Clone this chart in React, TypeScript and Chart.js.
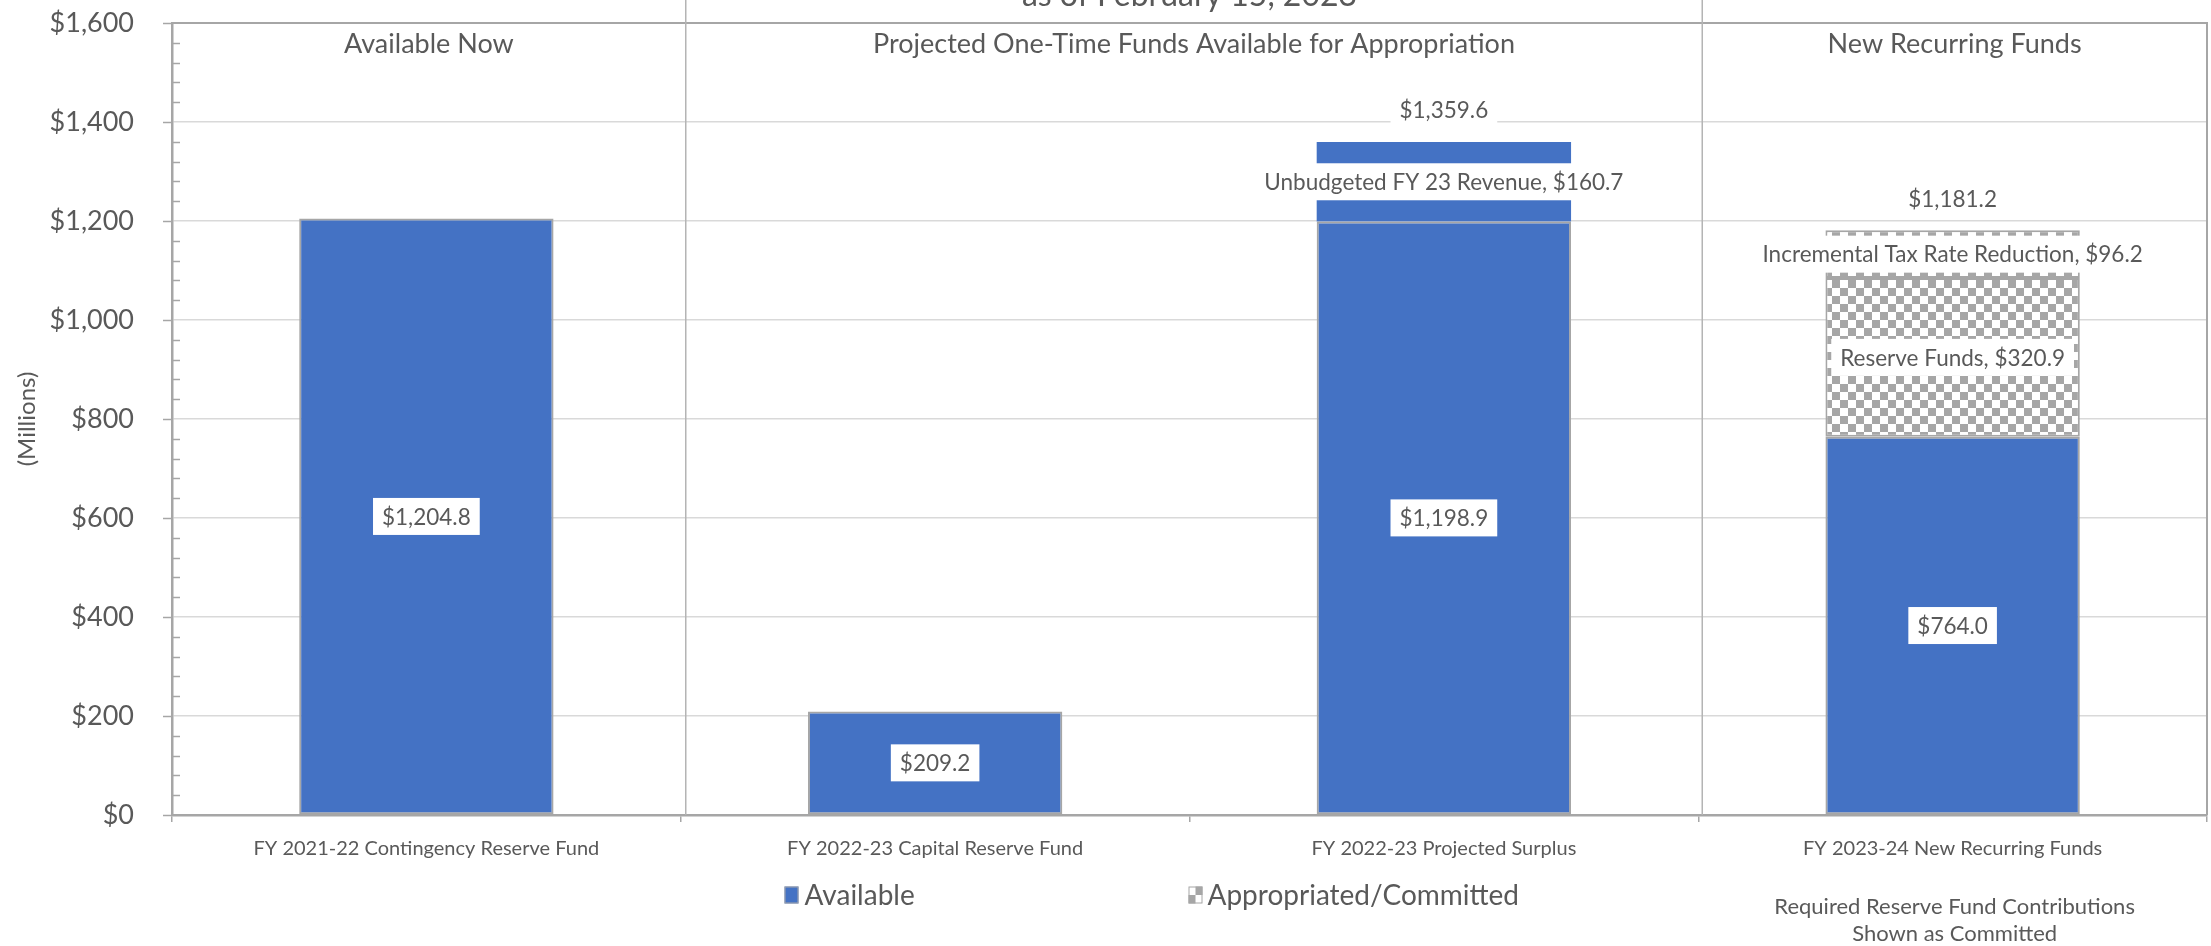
import React, { useEffect, useRef } from "react";
import { Chart, registerables } from "chart.js";

Chart.register(...registerables);

// ---------- data ----------
const categories = [
  "FY 2021-22 Contingency Reserve Fund",
  "FY 2022-23 Capital Reserve Fund",
  "FY 2022-23 Projected Surplus",
  "FY 2023-24 New Recurring Funds",
];
const availableBase = [1204.8, 209.2, 1198.9, 764.0];
const unbudgetedRevenue = [null, null, 160.7, null];
const reserveFunds = [null, null, null, 320.9];
const taxRateReduction = [null, null, null, 96.2];
const barTotals = [null, null, 1359.6, 1181.2];

const segmentNames = ["", "Unbudgeted FY 23 Revenue", "Reserve Funds", "Incremental Tax Rate Reduction"];
const sectionHeaders = [
  "Available Now",
  "Projected One-Time Funds Available for Appropriation",
  "New Recurring Funds",
];
const legendLabels = ["Available", "Appropriated/Committed"];
const footnoteLines = ["Required Reserve Fund Contributions", "Shown as Committed"];
const chartTitle = "as of February 15, 2023";
const yAxisTitle = "(Millions)";
const yMin = 0;
const yMax = 1600;
const yStep = 200;
const yMinorStep = 40;

// ---------- styles ----------
const FONT = "Lato";
const TEXT = "#595959";
const AXIS = "#a6a6a6";
const GRID = "#d9d9d9";
const BLUE = "#4472C4";
const CHECK_GRAY = "#a6a6a6";

const fmt = (v: number, dec: number) =>
  "$" + v.toLocaleString("en-US", { minimumFractionDigits: dec, maximumFractionDigits: dec });

function makeChecker(): CanvasPattern | string {
  const c = document.createElement("canvas");
  c.width = 16;
  c.height = 16;
  const g = c.getContext("2d");
  if (!g) return CHECK_GRAY;
  g.fillStyle = "#ffffff";
  g.fillRect(0, 0, 16, 16);
  g.fillStyle = CHECK_GRAY;
  g.fillRect(0, 0, 8, 8);
  g.fillRect(8, 8, 8, 8);
  const p = g.createPattern(c, "repeat");
  return p || CHECK_GRAY;
}

const overlayPlugin = {
  id: "overlay",
  afterDatasetsDraw(chart: any) {
    const { ctx, chartArea: ca, scales } = chart;
    const x = scales.x;
    const y = scales.y;
    ctx.save();

    // plot border (top, right)
    ctx.strokeStyle = AXIS;
    ctx.lineWidth = 2;
    ctx.beginPath();
    ctx.moveTo(ca.left, ca.top);
    ctx.lineTo(ca.right, ca.top);
    ctx.lineTo(ca.right, ca.bottom);
    ctx.stroke();

    // major ticks (outside) and minor ticks (inside)
    ctx.lineWidth = 1.5;
    for (let v = yMin; v <= yMax; v += yMinorStep) {
      const py = Math.round(y.getPixelForValue(v)) + 0.5;
      ctx.beginPath();
      if (v % yStep === 0) {
        ctx.moveTo(ca.left - 9, py);
        ctx.lineTo(ca.left, py);
      } else {
        ctx.moveTo(ca.left, py);
        ctx.lineTo(ca.left + 8, py);
      }
      ctx.stroke();
    }

    // section dividers
    const d1 = (x.getPixelForValue(0) + x.getPixelForValue(1)) / 2 + 5;
    const d2 = (x.getPixelForValue(2) + x.getPixelForValue(3)) / 2 + 4;
    ctx.strokeStyle = "#b4b4b4";
    ctx.lineWidth = 1.5;
    [d1, d2].forEach((dx) => {
      ctx.beginPath();
      ctx.moveTo(dx, 0);
      ctx.lineTo(dx, ca.bottom);
      ctx.stroke();
    });

    // section headers
    const bounds = [ca.left, d1, d2, ca.right];
    ctx.fillStyle = TEXT;
    ctx.font = `27px ${FONT}`;
    ctx.textAlign = "center";
    ctx.textBaseline = "middle";
    sectionHeaders.forEach((h, i) => {
      ctx.fillText(h, (bounds[i] + bounds[i + 1]) / 2, ca.top + 21);
    });

    // title (clipped at top)
    ctx.font = `32px ${FONT}`;
    ctx.textBaseline = "alphabetic";
    ctx.fillText(chartTitle, (ca.left + ca.right) / 2, 6);

    // data labels with white boxes
    const drawBoxLabel = (text: string, cx: number, cy: number) => {
      ctx.font = `22.5px ${FONT}`;
      const w = ctx.measureText(text).width;
      const bw = w + 18;
      const bh = 37;
      ctx.fillStyle = "#ffffff";
      ctx.fillRect(cx - bw / 2, cy - bh / 2, bw, bh);
      ctx.fillStyle = TEXT;
      ctx.textAlign = "center";
      ctx.textBaseline = "middle";
      ctx.fillText(text, cx, cy + 1);
    };

    chart.data.datasets.forEach((ds: any, di: number) => {
      const meta = chart.getDatasetMeta(di);
      ds.data.forEach((v: number | null, i: number) => {
        if (v == null) return;
        const el = meta.data[i];
        const cy = (el.y + el.base) / 2;
        const name = segmentNames[di];
        const text = name ? `${name}, ${fmt(v, 1)}` : fmt(v, 1);
        drawBoxLabel(text, el.x, cy);
      });
    });

    // totals
    barTotals.forEach((t, i) => {
      if (t == null) return;
      const top = y.getPixelForValue(t);
      drawBoxLabel(fmt(t, 1), x.getPixelForValue(i), top - 32);
    });

    // legend
    const legendY = ca.bottom + 80;
    const item2X = (x.getPixelForValue(1) + x.getPixelForValue(2)) / 2 - 1;
    const item1X = item2X - 404;
    const bw = 14;
    const bh = 17;
    ctx.font = `28px ${FONT}`;
    ctx.textAlign = "left";
    ctx.textBaseline = "middle";
    // item 1
    ctx.fillStyle = BLUE;
    ctx.fillRect(item1X, legendY - bh / 2, bw, bh);
    ctx.strokeStyle = AXIS;
    ctx.lineWidth = 1;
    ctx.strokeRect(item1X + 0.5, legendY - bh / 2 + 0.5, bw - 1, bh - 1);
    ctx.fillStyle = TEXT;
    ctx.fillText(legendLabels[0], item1X + bw + 6, legendY + 1);
    // item 2 (checker)
    ctx.fillStyle = "#ffffff";
    ctx.fillRect(item2X, legendY - bh / 2, bw, bh);
    ctx.fillStyle = CHECK_GRAY;
    ctx.fillRect(item2X + bw / 2, legendY - bh / 2, bw / 2, bh / 2);
    ctx.fillRect(item2X, legendY, bw / 2, bh / 2);
    ctx.strokeStyle = AXIS;
    ctx.strokeRect(item2X + 0.5, legendY - bh / 2 + 0.5, bw - 1, bh - 1);
    ctx.fillStyle = TEXT;
    ctx.fillText(legendLabels[1], item2X + bw + 5, legendY + 1);

    // footnote
    ctx.font = `22px ${FONT}`;
    ctx.textAlign = "center";
    const fx = (d2 + ca.right) / 2;
    footnoteLines.forEach((l, i) => {
      ctx.fillText(l, fx, ca.bottom + 92 + i * 27);
    });

    ctx.restore();
  },
};

export default function App() {
  const ref = useRef<HTMLCanvasElement | null>(null);

  useEffect(() => {
    if (!ref.current) return;
    const checker = makeChecker();
    const common = {
      stack: "s",
      borderColor: AXIS,
      borderSkipped: false,
      barPercentage: 0.5,
      categoryPercentage: 1.0,
    };
    const chart = new Chart(ref.current, {
      type: "bar",
      data: {
        labels: categories,
        datasets: [
          { ...common, label: "Available", data: availableBase, backgroundColor: BLUE, borderWidth: 2 },
          { ...common, label: "Unbudgeted FY 23 Revenue", data: unbudgetedRevenue, backgroundColor: BLUE, borderWidth: 0 },
          { ...common, label: "Reserve Funds", data: reserveFunds, backgroundColor: checker as any, borderWidth: 2 },
          { ...common, label: "Incremental Tax Rate Reduction", data: taxRateReduction, backgroundColor: checker as any, borderWidth: 2 },
        ] as any,
      },
      options: {
        responsive: false,
        animation: false,
        devicePixelRatio: 1,
        layout: { padding: { top: 23, right: 4, left: 0, bottom: 0 } },
        font: { family: FONT },
        plugins: {
          legend: { display: false },
          tooltip: { enabled: false },
          title: { display: false },
        },
        scales: {
          x: {
            stacked: true,
            offset: true,
            grid: {
              offset: true,
              drawOnChartArea: false,
              drawTicks: true,
              tickLength: 7,
              tickColor: AXIS,
              lineWidth: 1.5,
            },
            border: { color: AXIS, width: 2.5 },
            ticks: {
              color: TEXT,
              font: { family: FONT, size: 20 },
              padding: 15,
              maxRotation: 0,
              autoSkip: false,
            },
            afterFit: (s: any) => {
              s.height = 131;
            },
          },
          y: {
            stacked: true,
            min: yMin,
            max: yMax,
            grid: {
              color: GRID,
              lineWidth: 1.5,
              drawTicks: true,
              tickLength: 35,
              tickColor: "rgba(0,0,0,0)",
            },
            border: { color: AXIS, width: 2.5 },
            ticks: {
              stepSize: yStep,
              color: TEXT,
              font: { family: FONT, size: 27 },
              padding: 3,
              callback: (v: any) => fmt(Number(v), 0),
            },
            title: {
              display: true,
              text: yAxisTitle,
              color: TEXT,
              font: { family: FONT, size: 24 },
              padding: { top: 13, bottom: 0 },
            },
            afterFit: (s: any) => {
              s.width = 172;
            },
          },
        },
      },
      plugins: [overlayPlugin],
    } as any);
    return () => chart.destroy();
  }, []);

  return (
    <div style={{ position: "fixed", left: 0, top: 0, width: 2211, height: 946, background: "#fff" }}>
      <canvas ref={ref} width={2211} height={946} style={{ width: 2211, height: 946, display: "block" }} />
    </div>
  );
}
